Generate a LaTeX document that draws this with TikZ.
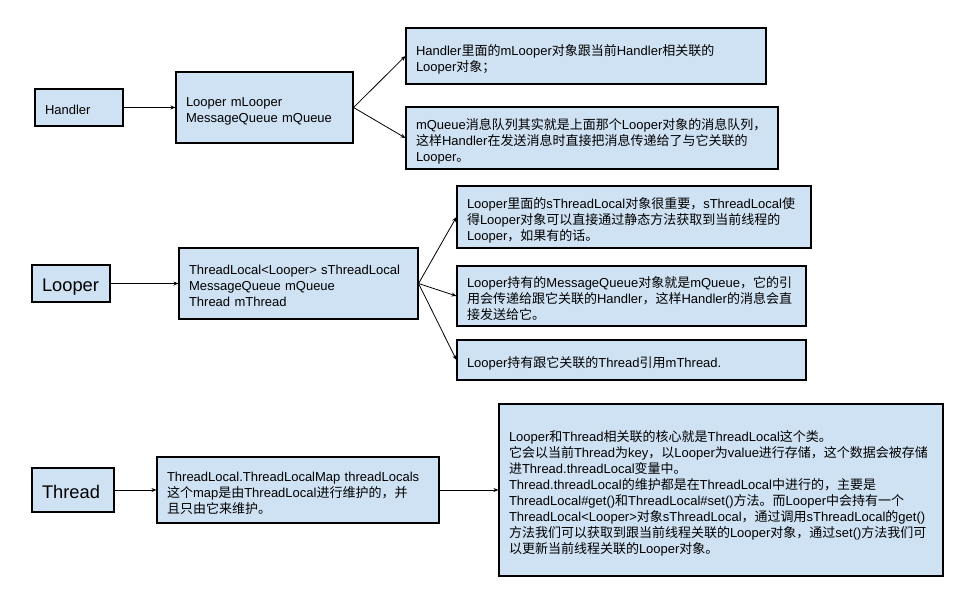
\documentclass[tikz,border=0pt]{standalone}
\usepackage{fontspec}
\setmainfont{Liberation Sans}
\newfontfamily\cjkfont{Noto Sans CJK SC}
\usetikzlibrary{arrows.meta}
\XeTeXinterchartokenstate=1
\count255="3000
\loop\XeTeXcharclass\count255=10 \ifnum\count255<"9FFF \advance\count255 by 1 \repeat
\count255="FF00
\loop\XeTeXcharclass\count255=10 \ifnum\count255<"FFEF \advance\count255 by 1 \repeat
\XeTeXinterchartoks 0 10 = {\cjkfont}
\XeTeXinterchartoks 4095 10 = {\cjkfont}
\XeTeXinterchartoks 10 0 = {\rmfamily}
\XeTeXinterchartoks 10 4095 = {\rmfamily}
\definecolor{boxfill}{HTML}{CFE2F3}
\tikzset{
  box/.style={draw=black, line width=1.1pt, fill=boxfill, inner xsep=10pt, inner ysep=0pt,
    align=left, font=\fontsize{13}{16}\selectfont,
    execute at begin node={\rule{0pt}{17.5pt}},
    execute at end node={\rule[-3pt]{0pt}{3pt}}},
  bigbox/.style={box, font=\fontsize{18.3}{22}\selectfont,
    execute at begin node={\rule{0pt}{20pt}}},
  conn/.style={line width=0.8pt, -{Stealth[length=5pt,width=4pt]}}
}
\begin{document}
\begin{tikzpicture}[x=1pt,y=-1pt]
\useasboundingbox (0,0) rectangle (960,600);
% row 1
\node[box, minimum width=88pt, minimum height=37pt, text width=68pt] (handler) at (79,107.5) {Handler};
\node[box, minimum width=177pt, minimum height=71pt, text width=157pt] (m1) at (264.5,107.5) {Looper mLooper\\MessageQueue mQueue};
\node[box, minimum width=360pt, minimum height=56pt, text width=340pt] (r1) at (586,56) {Handler里面的mLooper对象跟当前Handler相关联的\\Looper对象；};
\node[box, minimum width=372pt, minimum height=62pt, text width=352pt] (r2) at (592,138) {mQueue消息队列其实就是上面那个Looper对象的消息队列，\\这样Handler在发送消息时直接把消息传递给了与它关联的\\Looper。};
% row 2
\node[bigbox, minimum width=78pt, minimum height=37pt, text width=58pt] (looper) at (71,283.5) {Looper};
\node[box, minimum width=239pt, minimum height=71pt, text width=219pt] (m2) at (298.5,283.5) {ThreadLocal<Looper> sThreadLocal\\MessageQueue mQueue\\Thread mThread};
\node[box, minimum width=354pt, minimum height=62pt, text width=334pt] (la) at (634,217) {Looper里面的sThreadLocal对象很重要，sThreadLocal使\\得Looper对象可以直接通过静态方法获取到当前线程的\\Looper，如果有的话。};
\node[box, minimum width=349pt, minimum height=60pt, text width=329pt] (lb) at (631.5,296) {Looper持有的MessageQueue对象就是mQueue，它的引\\用会传递给跟它关联的Handler，这样Handler的消息会直\\接发送给它。};
\node[box, minimum width=349pt, minimum height=40pt, text width=329pt] (lc) at (631.5,360) {Looper持有跟它关联的Thread引用mThread.};
% row 3
\node[bigbox, minimum width=82pt, minimum height=44pt, text width=62pt] (thread) at (73,490) {Thread};
\node[box, minimum width=282pt, minimum height=66pt, text width=262pt] (m3) at (298,490) {ThreadLocal.ThreadLocalMap threadLocals\\这个map是由ThreadLocal进行维护的，并\\且只由它来维护。};
\node[box, minimum width=444pt, minimum height=172pt, text width=424pt] (big) at (721,490) {Looper和Thread相关联的核心就是ThreadLocal这个类。\\它会以当前Thread为key，以Looper为value进行存储，这个数据会被存储\\进Thread.threadLocal变量中。\\Thread.threadLocal的维护都是在ThreadLocal中进行的，主要是\\ThreadLocal\#get()和ThreadLocal\#set()方法。而Looper中会持有一个\\ThreadLocal<Looper>对象sThreadLocal，通过调用sThreadLocal的get()\\方法我们可以获取到跟当前线程关联的Looper对象，通过set()方法我们可\\以更新当前线程关联的Looper对象。};
% connectors
\draw[conn] (handler.east) -- (m1.west);
\draw[conn] (m1.east) -- (r1.west);
\draw[conn] (m1.east) -- (r2.west);
\draw[conn] (looper.east) -- (m2.west);
\draw[conn] (m2.east) -- (la.west);
\draw[conn] (m2.east) -- (lb.west);
\draw[conn] (m2.east) -- (lc.west);
\draw[conn] (thread.east) -- (m3.west);
\draw[conn] (m3.east) -- (big.west);
\end{tikzpicture}
\end{document}
